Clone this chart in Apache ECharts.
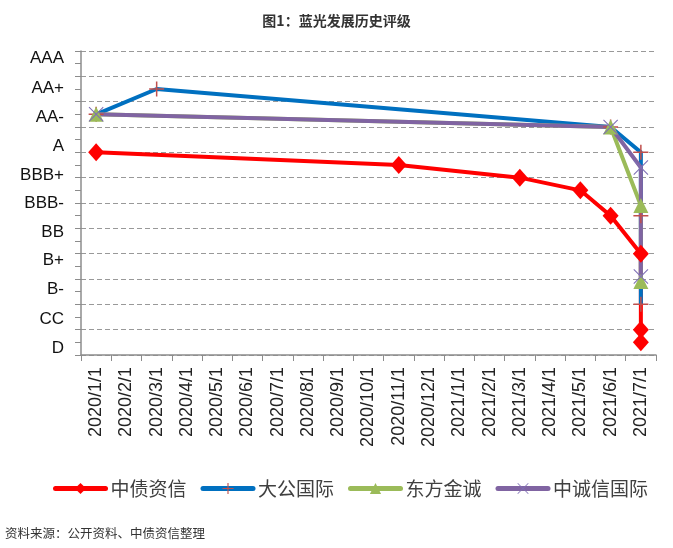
<!DOCTYPE html>
<html>
<head>
  <meta charset="utf-8" />
  <title>蓝光发展历史评级</title>
  <script src="https://cdn.jsdelivr.net/npm/echarts@6/dist/echarts.min.js"></script>
  <style>
    html, body { margin: 0; padding: 0; background: #fff; }
    #chart { width: 673px; height: 548px; }
  </style>
</head>
<body>
  <div id="chart"></div>
  <script>
    // 横轴：月份（Excel 日期轴按月归并）
    const months = ['2020/1/1', '2020/2/1', '2020/3/1', '2020/4/1', '2020/5/1', '2020/6/1',
      '2020/7/1', '2020/8/1', '2020/9/1', '2020/10/1', '2020/11/1', '2020/12/1',
      '2021/1/1', '2021/2/1', '2021/3/1', '2021/4/1', '2021/5/1', '2021/6/1', '2021/7/1'];

    // 纵轴评级标签及其所在刻度值
    const ratingNames = ['D', 'CC', 'B-', 'B+', 'BB', 'BBB-', 'BBB+', 'A', 'AA-', 'AA+', 'AAA'];
    const ratingTicks = [0.27, 1.41, 2.59, 3.75, 4.83, 5.99, 7.1, 8.22, 9.38, 10.53, 11.71];

    // 各机构评级（同一月可有多条记录）
    const zzDates = ['2020/1/1', '2020/11/1', '2021/3/1', '2021/5/1', '2021/6/1', '2021/7/1', '2021/7/1', '2021/7/1'];
    const zzValues = [8, 7.5, 7, 6.5, 5.5, 4, 1, 0.5];

    const dgDates = ['2020/1/1', '2020/3/1', '2021/6/1', '2021/7/1', '2021/7/1', '2021/7/1'];
    const dgValues = [9.5, 10.5, 9, 8, 5.5, 2];

    const dfDates = ['2020/1/1', '2021/6/1', '2021/7/1', '2021/7/1'];
    const dfValues = [9.5, 9, 5.9, 2.9];

    const zcxDates = ['2020/1/1', '2021/6/1', '2021/7/1', '2021/7/1'];
    const zcxValues = [9.5, 9, 7.4, 3.1];

    const seriesNames = ['中债资信', '大公国际', '东方金诚', '中诚信国际'];

    const plusPath = 'path://M9,0H11V9H20V11H11V20H9V11H0V9H9Z';
    const crossPath = 'path://M0,1L1,0L10,9L19,0L20,1L11,10L20,19L19,20L10,11L1,20L0,19L9,10Z';

    function pairs(dates, values) {
      return dates.map((d, i) => [d, values[i]]);
    }

    const chart = echarts.init(document.getElementById('chart'));
    const option = {
      animation: false,
      title: {
        text: '图1：蓝光发展历史评级',
        left: 'center',
        top: 9,
        textStyle: { fontSize: 14, fontWeight: 'bold', color: '#333', fontFamily: 'Noto Sans CJK SC' }
      },
      graphic: [{
        type: 'text',
        left: 5,
        top: 527,
        style: { text: '资料来源：公开资料、中债资信整理', fontSize: 12.5, fill: '#333', fontFamily: 'Noto Sans CJK SC' }
      }],
      legend: {
        data: seriesNames,
        left: 48,
        top: 474,
        itemWidth: 50,
        itemHeight: 14,
        itemGap: 14,
        lineStyle: { width: 5, cap: 'round' },
        textStyle: { fontSize: 19, color: '#404040', fontFamily: 'Noto Sans CJK SC' }
      },
      grid: { left: 81, right: 17, top: 51, bottom: 193 },
      xAxis: {
        type: 'category',
        data: months,
        boundaryGap: true,
        axisLine: { lineStyle: { color: '#8c8c8c', width: 1.5 } },
        axisTick: { show: true, length: 6, lineStyle: { color: '#8c8c8c' } },
        axisLabel: {
          interval: 0,
          rotate: 90,
          fontSize: 18,
          color: '#222',
          margin: 12,
          fontFamily: 'Liberation Sans'
        }
      },
      yAxis: {
        type: 'value',
        min: 0,
        max: 12,
        interval: 1,
        axisLine: { show: true, lineStyle: { color: '#8c8c8c', width: 1.5 } },
        axisTick: { show: true, length: 6, lineStyle: { color: '#8c8c8c' } },
        minorTick: { show: true, splitNumber: 2, length: 6, lineStyle: { color: '#8c8c8c' } },
        splitLine: { show: true, lineStyle: { color: '#999', type: [5, 3], width: 1 } },
        axisLabel: {
          customValues: ratingTicks,
          formatter: function (v) {
            let best = 0;
            ratingTicks.forEach((t, i) => {
              if (Math.abs(t - v) < Math.abs(ratingTicks[best] - v)) best = i;
            });
            return ratingNames[best];
          },
          fontSize: 17,
          color: '#111',
          margin: 17,
          fontFamily: 'Liberation Sans'
        }
      },
      series: [
        {
          name: seriesNames[0],
          type: 'line',
          data: pairs(zzDates, zzValues),
          symbol: 'diamond',
          symbolSize: [16, 18],
          lineStyle: { color: '#ff0000', width: 4 },
          itemStyle: { color: '#ff0000' }
        },
        {
          name: seriesNames[1],
          type: 'line',
          data: pairs(dgDates, dgValues),
          symbol: plusPath,
          symbolSize: 15,
          lineStyle: { color: '#0070c0', width: 4 },
          itemStyle: { color: '#c0504d' }
        },
        {
          name: seriesNames[2],
          type: 'line',
          data: pairs(dfDates, dfValues),
          symbol: 'triangle',
          symbolSize: 15,
          lineStyle: { color: '#9bbb59', width: 4 },
          itemStyle: { color: '#9bbb59' }
        },
        {
          name: seriesNames[3],
          type: 'line',
          data: pairs(zcxDates, zcxValues),
          symbol: crossPath,
          symbolSize: 15,
          lineStyle: { color: '#8064a2', width: 4 },
          itemStyle: { color: '#7f6fb5' }
        }
      ]
    };
    chart.setOption(option);
  </script>
</body>
</html>
